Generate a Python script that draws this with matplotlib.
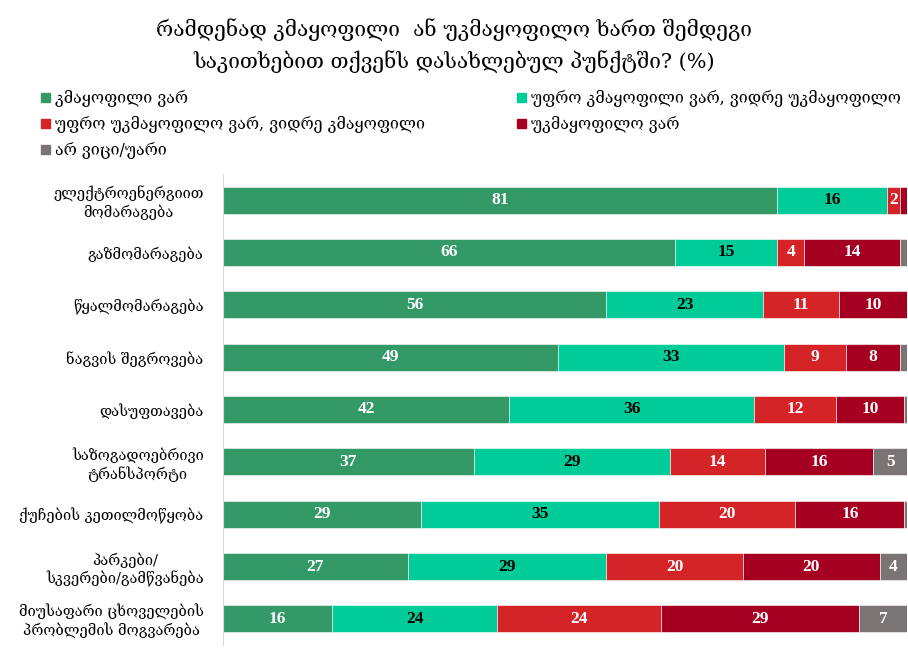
from matplotlib import pyplot as plt
from matplotlib.patches import Patch
import numpy as np

categories = [
    "ელექტროენერგიით\nმომარაგება",
    "გაზმომარაგება",
    "წყალმომარაგება",
    "ნაგვის შეგროვება",
    "დასუფთავება",
    "საზოგადოებრივი\nტრანსპორტი",
    "ქუჩების კეთილმოწყობა",
    "პარკები/\nსკვერები/გამწვანება",
    "მიუსაფარი ცხოველების\nპრობლემის მოგვარება",
]

series_names = [
    "კმაყოფილი ვარ",
    "უფრო კმაყოფილი ვარ, ვიდრე უკმაყოფილო",
    "უფრო უკმაყოფილო ვარ, ვიდრე კმაყოფილი",
    "უკმაყოფილო ვარ",
    "არ ვიცი/უარი",
]

satisfied = [81, 66, 56, 49, 42, 37, 29, 27, 16]
rather_satisfied = [16, 15, 23, 33, 36, 29, 35, 29, 24]
rather_unsatisfied = [2, 4, 11, 9, 12, 14, 20, 20, 24]
unsatisfied = [1, 14, 10, 8, 10, 16, 16, 20, 29]
dont_know = [0, 1, 0, 1, 0.4, 5, 0.4, 4, 7]

title = ("რამდენად კმაყოფილი  ან უკმაყოფილო ხართ შემდეგი\n"
         "საკითხებით თქვენს დასახლებულ პუნქტში? (%)")

colors = ["#339966", "#00cc99", "#d42428", "#a50021", "#7a7574"]
label_colors = ["white", "black", "white", "white", "white"]

plt.rcParams["font.family"] = ["DejaVu Serif", "DejaVu Sans"]


def main():
    data = np.array([satisfied, rather_satisfied, rather_unsatisfied,
                     unsatisfied, dont_know], dtype=float)
    # 100% stacked, like the original
    shares = data / data.sum(axis=0) * 100

    fig = plt.figure(figsize=(9.08, 6.6), dpi=100)
    ax = fig.add_axes([0.2456, 0.0227, 0.7534, 0.7137])

    y = np.arange(len(categories))
    left = np.zeros(len(categories))
    handles = []
    for i, name in enumerate(series_names):
        bars = ax.barh(y, shares[i], left=left, height=0.52,
                       color=colors[i], edgecolor="white", linewidth=0.4,
                       label=name)
        handles.append(Patch(color=colors[i], label=name))
        for rect, val in zip(bars, data[i]):
            if val >= 2:
                ax.text(rect.get_x() + rect.get_width() / 2,
                        rect.get_y() + rect.get_height() / 2,
                        f"{val:.0f}", ha="center", va="center",
                        color=label_colors[i], fontsize=12.5,
                        fontweight="bold", family="Liberation Serif")
        left += shares[i]

    ax.set_xlim(0, 100)
    ax.set_ylim(len(categories) - 0.5, -0.5)
    ax.set_yticks(y)
    ax.set_yticklabels(categories, fontsize=10.5, multialignment="center")
    ax.tick_params(axis="y", length=0, pad=14)
    ax.set_xticks([])
    for side in ["top", "right", "bottom"]:
        ax.spines[side].set_visible(False)
    ax.spines["left"].set_color("#d9d9d9")

    fig.text(0.5, 0.9305, title, ha="center", va="center", fontsize=15,
             linespacing=1.5)

    order = [0, 2, 4, 1, 3]
    fig.legend([handles[k] for k in order], [series_names[k] for k in order],
               ncol=2, loc="upper left", bbox_to_anchor=(0.045, 0.8635),
               frameon=False, fontsize=11.5, handlelength=0.55,
               handleheight=0.55, handletextpad=0.35, columnspacing=5.75,
               labelspacing=0.55, borderaxespad=0, borderpad=0)

    fig.savefig("out.png", dpi=100)


if __name__ == "__main__":
    main()
